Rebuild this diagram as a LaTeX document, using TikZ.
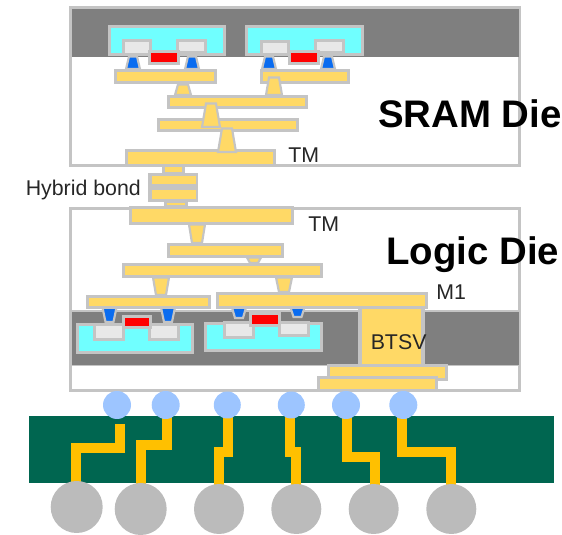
\documentclass[tikz,border=0pt]{standalone}
\usepackage{fontspec}
\setmainfont{Liberation Sans}
\definecolor{gold}{HTML}{FFD966}
\definecolor{edgeg}{HTML}{C4C4C4}
\definecolor{band}{HTML}{7F7F7F}
\definecolor{wellc}{HTML}{70FFFF}
\definecolor{cellc}{HTML}{E8E8E8}
\definecolor{viab}{HTML}{0A6CF0}
\definecolor{ballb}{HTML}{9DC5FF}
\definecolor{pcb}{HTML}{006650}
\definecolor{trace}{HTML}{FFC000}
\definecolor{ballg}{HTML}{BBBBBB}
\definecolor{txt}{HTML}{262626}
\tikzset{
  metal/.style={draw=edgeg,fill=gold,line width=2.4pt},
  diebox/.style={draw=edgeg,fill=white,line width=2.4pt},
  wellbox/.style={draw=edgeg,fill=wellc,line width=2.4pt},
  cellbox/.style={draw=edgeg,fill=cellc,line width=2.4pt},
  redbox/.style={draw=edgeg,fill=red,line width=2.4pt},
  bluevia/.style={draw=edgeg,fill=viab,line width=1.6pt},
  goldvia/.style={draw=edgeg,fill=gold,line width=1.6pt},
  traceline/.style={draw=trace,line width=7.5pt},
  bump/.style={circle,fill=ballb,inner sep=0pt,minimum size=#1*0.75pt},
  sball/.style={circle,fill=ballg,inner sep=0pt,minimum size=#1*0.75pt},
  thinlabel/.style={font=\fontsize{16}{16}\selectfont,text=txt,inner sep=0pt},
  dielabel/.style={font=\fontsize{28.8}{28.8}\selectfont\bfseries,text=black,inner sep=0pt,anchor=west}
}
\newcommand{\pbox}[5]{\draw[#1] (#2+1.5,#3+1.5) rectangle (#4-1.5,#5-1.5);}
\newcommand{\pvia}[6]{\draw[#1] (#2-#5,#3+1.5) -- (#2+#5,#3+1.5) -- (#2+#6,#4-1) -- (#2-#6,#4-1) -- cycle;}
\begin{document}
\begin{tikzpicture}[x=0.75pt,y=-0.75pt]
\useasboundingbox (0,0) rectangle (562,535);
% ---- SRAM die
\pbox{diebox}{69}{6}{521}{167}
\fill[band] (72,9) rectangle (519,57);
\pbox{wellbox}{108}{25}{226}{56}
\pbox{wellbox}{245}{25}{364}{56}
\pvia{bluevia}{133}{55}{70}{4}{7}
\pvia{bluevia}{192}{55}{70}{4}{7}
\pvia{bluevia}{269}{55}{70}{4}{7}
\pvia{bluevia}{328}{55}{70}{4}{7}
\pbox{cellbox}{122}{39}{152}{56}
\pbox{cellbox}{176}{39}{207}{54}
\pbox{cellbox}{260}{40}{290}{56}
\pbox{cellbox}{314}{39}{345}{54}
\pbox{redbox}{148}{50}{180}{65}
\pbox{redbox}{288}{50}{320}{65}
\pbox{metal}{114}{69}{217}{84}
\pbox{metal}{260}{69}{350}{84}
\pvia{goldvia}{183}{83}{96}{5}{8}
\pvia{goldvia}{274}{76}{96}{5}{8}
\pbox{metal}{167}{95}{308}{109}
\pbox{metal}{157}{118}{299}{132}
\pvia{goldvia}{211}{102}{128}{5}{9}
\pbox{metal}{125}{149}{276}{167}
\pvia{goldvia}{227}{127}{153}{5}{9}
% ---- hybrid bond
\pbox{metal}{162}{164}{185}{175}
\pbox{metal}{164}{200}{188}{208}
\fill[edgeg] (148,173) rectangle (198,202);
\fill[gold] (151.5,176.5) rectangle (195.5,184);
\fill[gold] (151.5,190) rectangle (195.5,199);
% ---- logic die
\pbox{diebox}{69}{207}{521}{392}
\fill[band] (72,311.5) rectangle (519,365);
\draw[edgeg,line width=0.8pt] (72,311) -- (519,311);
\draw[edgeg,line width=0.8pt] (72,365.5) -- (519,365.5);
\pbox{wellbox}{76}{323}{194}{354}
\pbox{wellbox}{204}{322}{323}{352}
\pbox{cellbox}{93}{323}{125}{341}
\pbox{cellbox}{148}{323}{180}{341}
\pbox{cellbox}{223}{321}{255}{339}
\pbox{cellbox}{278}{321}{310}{337}
\pbox{redbox}{122}{315}{152}{329}
\pbox{redbox}{249}{312}{281}{327}
\fill[gold] (361,306) rectangle (422,364);
\draw[edgeg,line width=2.4pt] (360,306) -- (360,365) (423,306) -- (423,365);
\pvia{bluevia}{109.5}{306}{323}{7}{4}
\pvia{bluevia}{168}{306}{323}{7}{4}
\pvia{bluevia}{239}{306}{319}{7}{4}
\pvia{bluevia}{297.5}{306}{318}{7}{4}
\pvia{goldvia}{197}{223}{244}{8}{5}
\pbox{metal}{129}{206}{294}{225}
\pbox{metal}{167}{243}{284}{258}
\pvia{goldvia}{254}{256}{264}{7}{4}
\pbox{metal}{122}{263}{323}{278}
\pvia{goldvia}{161}{276}{296}{8}{5}
\pvia{goldvia}{284}{276}{293}{8}{5}
\pbox{metal}{86}{295}{211}{309}
\pbox{metal}{216}{292}{428}{309}
\pbox{metal}{327}{364}{448}{381}
\pbox{metal}{317}{376}{438}{392}
% ---- package substrate
\fill[pcb] (28.5,416) rectangle (554,483.5);
\draw[traceline] (120,424) -- (120,448.5) -- (75.7,448.5) -- (75.7,486);
\draw[traceline] (166.7,415) -- (166.7,445) -- (141.3,445) -- (141.3,486);
\draw[traceline] (227.7,415) -- (227.7,451.7) -- (218.7,451.7) -- (218.7,486);
\draw[traceline] (290,415) -- (290,451.7) -- (295.5,451.7) -- (295.5,486);
\draw[traceline] (347,415) -- (347,456.7) -- (375,456.7) -- (375,486);
\draw[traceline] (402,415) -- (402,451.7) -- (451,451.7) -- (451,486);
\node[bump=28] (b1) at (117,405) {};
\node[bump=28] (b2) at (165.7,405) {};
\node[bump=27] (b3) at (227.3,405) {};
\node[bump=27] (b4) at (291.3,405) {};
\node[bump=28] (b5) at (346,405) {};
\node[bump=28] (b6) at (403.3,405) {};
\node[sball=52] (s1) at (76.7,507) {};
\node[sball=52] (s2) at (140.7,509) {};
\node[sball=50] (s3) at (219,509) {};
\node[sball=50] (s4) at (296.3,509) {};
\node[sball=50] (s5) at (373.7,509) {};
\node[sball=50] (s6) at (451.3,509) {};
% ---- labels
\node[thinlabel,anchor=west] (tm1) at (288,155.5) {TM};
\node[thinlabel,anchor=west] (hb) at (25.5,190) {Hybrid bond};
\node[thinlabel,anchor=west] (tm2) at (308,224.5) {TM};
\node[thinlabel,anchor=west] (m1) at (436,292.5) {M1};
\node[thinlabel,anchor=west] (btsv) at (370.5,342) {BTSV};
\node[dielabel] (sram) at (378,113.5) {SRAM Die};
\node[dielabel] (logic) at (386,255) {Logic Die};
\end{tikzpicture}
\end{document}
